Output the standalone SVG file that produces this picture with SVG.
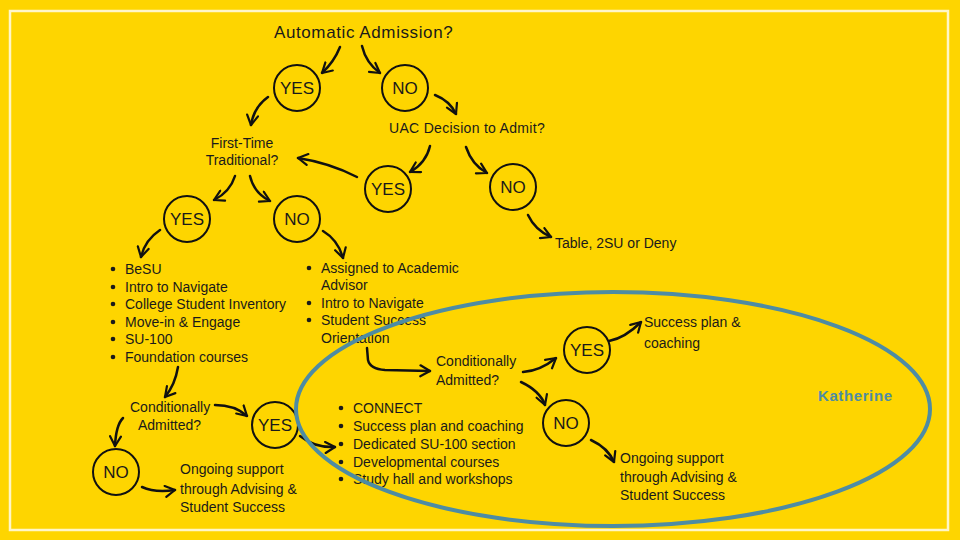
<svg xmlns="http://www.w3.org/2000/svg" width="960" height="540" viewBox="0 0 960 540">
<defs>
<style>
.t{font-family:"Liberation Sans",Arial,sans-serif;font-size:14px;fill:#1a1a1a}
.h{font-size:17px;letter-spacing:0.6px}
.c{font-family:"Liberation Sans",Arial,sans-serif;font-size:17px;fill:#1a1a1a;text-anchor:middle}
.n circle{fill:none;stroke:#111;stroke-width:2}
.a{fill:none;stroke:#111;stroke-width:2.5;stroke-linecap:round;marker-end:url(#ah)}
</style>
<marker id="ah" viewBox="0 0 10 10" refX="8" refY="5" markerWidth="5.5" markerHeight="5.5" orient="auto" markerUnits="strokeWidth">
<path d="M1,1 L8,5 L1,9" fill="none" stroke="#111" stroke-width="1.6" stroke-linecap="round" stroke-linejoin="round"/>
</marker>
<marker id="ahb" viewBox="0 0 10 10" refX="8" refY="5" markerWidth="4" markerHeight="4" orient="auto" markerUnits="strokeWidth">
<path d="M1,1 L8,5 L1,9" fill="none" stroke="#111" stroke-width="1.4" stroke-linecap="round" stroke-linejoin="round"/>
</marker>
</defs>
<rect width="960" height="540" fill="#FED500"/>
<rect x="10" y="11" width="938" height="519" fill="none" stroke="#FFF6C8" stroke-width="2.5"/>

<g id="q-auto"><text class="t h" x="274" y="38">Automatic Admission?</text></g>
<g id="yes1" class="n"><circle cx="297" cy="88" r="23"/><text class="c" x="297" y="94">YES</text></g>
<g id="no1" class="n"><circle cx="405" cy="88" r="23"/><text class="c" x="405" y="94">NO</text></g>
<g id="q-uac"><text class="t" x="389" y="133" letter-spacing="0.3">UAC Decision to Admit?</text></g>
<g id="q-ft"><text class="t" x="242" y="148" text-anchor="middle">First-Time</text><text class="t" x="242" y="165" text-anchor="middle">Traditional?</text></g>
<g id="yes2" class="n"><circle cx="388" cy="189" r="23"/><text class="c" x="388" y="195">YES</text></g>
<g id="no2" class="n"><circle cx="513" cy="187" r="23"/><text class="c" x="513" y="193">NO</text></g>
<g id="deny"><text class="t" x="555" y="248">Table, 2SU or Deny</text></g>
<g id="yes3" class="n"><circle cx="187" cy="219" r="23"/><text class="c" x="187" y="225">YES</text></g>
<g id="no3" class="n"><circle cx="297" cy="219" r="23"/><text class="c" x="297" y="225">NO</text></g>

<g id="list-ft">
<g fill="#1a1a1a"><circle cx="113" cy="269" r="2.3"/><circle cx="113" cy="287" r="2.3"/><circle cx="113" cy="304" r="2.3"/><circle cx="113" cy="322" r="2.3"/><circle cx="113" cy="339" r="2.3"/><circle cx="113" cy="357" r="2.3"/></g>
<text class="t" x="125" y="274">BeSU</text>
<text class="t" x="125" y="292">Intro to Navigate</text>
<text class="t" x="125" y="309">College Student Inventory</text>
<text class="t" x="125" y="327">Move-in &amp; Engage</text>
<text class="t" x="125" y="344">SU-100</text>
<text class="t" x="125" y="362">Foundation courses</text>
</g>
<g id="list-nft">
<g fill="#1a1a1a"><circle cx="309" cy="268" r="2.3"/><circle cx="309" cy="303" r="2.3"/><circle cx="309" cy="320" r="2.3"/></g>
<text class="t" x="321" y="273">Assigned to Academic</text>
<text class="t" x="321" y="290">Advisor</text>
<text class="t" x="321" y="308">Intro to Navigate</text>
<text class="t" x="321" y="325">Student Success</text>
<text class="t" x="321" y="343">Orientation</text>
</g>

<g id="q-cond-r"><text class="t" x="436" y="366">Conditionally</text><text class="t" x="436" y="385">Admitted?</text></g>
<g id="yes5" class="n"><circle cx="587" cy="350" r="23"/><text class="c" x="587" y="356">YES</text></g>
<g id="success-r"><text class="t" x="644" y="327">Success plan &amp;</text><text class="t" x="644" y="348">coaching</text></g>
<g id="no5" class="n"><circle cx="566" cy="423" r="23"/><text class="c" x="566" y="429">NO</text></g>
<g id="ongoing-r"><text class="t" x="620" y="463">Ongoing support</text><text class="t" x="620" y="482">through Advising &amp;</text><text class="t" x="620" y="500">Student Success</text></g>

<g id="q-cond-l"><text class="t" x="130" y="412">Conditionally</text><text class="t" x="138" y="430">Admitted?</text></g>
<g id="yes4" class="n"><circle cx="275" cy="425" r="23"/><text class="c" x="275" y="431">YES</text></g>
<g id="no4" class="n"><circle cx="116" cy="472" r="23"/><text class="c" x="116" y="478">NO</text></g>
<g id="ongoing-l"><text class="t" x="180" y="474">Ongoing support</text><text class="t" x="180" y="494">through Advising &amp;</text><text class="t" x="180" y="512">Student Success</text></g>
<g id="list-cond">
<g fill="#1a1a1a"><circle cx="341" cy="408" r="2.3"/><circle cx="341" cy="426" r="2.3"/><circle cx="341" cy="444" r="2.3"/><circle cx="341" cy="462" r="2.3"/><circle cx="341" cy="479" r="2.3"/></g>
<text class="t" x="353" y="413">CONNECT</text>
<text class="t" x="353" y="431">Success plan and coaching</text>
<text class="t" x="353" y="449">Dedicated SU-100 section</text>
<text class="t" x="353" y="467">Developmental courses</text>
<text class="t" x="353" y="484">Study hall and workshops</text>
</g>

<g id="connectors">
<path class="a" d="M340,47 Q334,62 322,73"/>
<path class="a" d="M362,46 Q366,63 380,73"/>
<path class="a" d="M435,95 Q450,101 456,114"/>
<path class="a" d="M268,97 Q254,107 251,125"/>
<path class="a" d="M430,146 Q426,163 410,172"/>
<path class="a" d="M466,147 Q472,165 487,173"/>
<path class="a" d="M528,215 Q535,230 551,237"/>
<path class="a" d="M357,177 Q330,163 298,158" stroke-width="5.5" marker-end="url(#ahb)"/>
<path class="a" d="M235,176 Q230,192 214,200"/>
<path class="a" d="M250,176 Q254,193 270,201"/>
<path class="a" d="M160,230 Q145,240 141,257"/>
<path class="a" d="M323,231 Q338,240 343,258"/>
<path class="a" d="M367,348 L368,360 Q370,369 385,370 L430,371"/>
<path class="a" d="M523,372 Q540,371 556,358"/>
<path class="a" d="M609,341 Q625,338 641,322"/>
<path class="a" d="M521,382 Q540,391 545,405"/>
<path class="a" d="M591,440 Q608,448 614,462"/>
<path class="a" d="M178,367 Q175,385 165,397"/>
<path class="a" d="M215,405 Q235,405 247,416"/>
<path class="a" d="M123,418 Q116,425 115,446"/>
<path class="a" d="M142,487 Q155,493 175,490"/>
<path class="a" d="M300,436 Q315,448 335,447"/>
</g>

<g id="katherine">
<ellipse cx="613" cy="409" rx="317" ry="117" fill="none" stroke="#4E8CA3" stroke-width="4"/>
<text x="818" y="401" font-family="'Liberation Sans',Arial,sans-serif" font-size="15" font-weight="bold" letter-spacing="0.6" fill="#4E8CA3">Katherine</text>
</g>
</svg>
